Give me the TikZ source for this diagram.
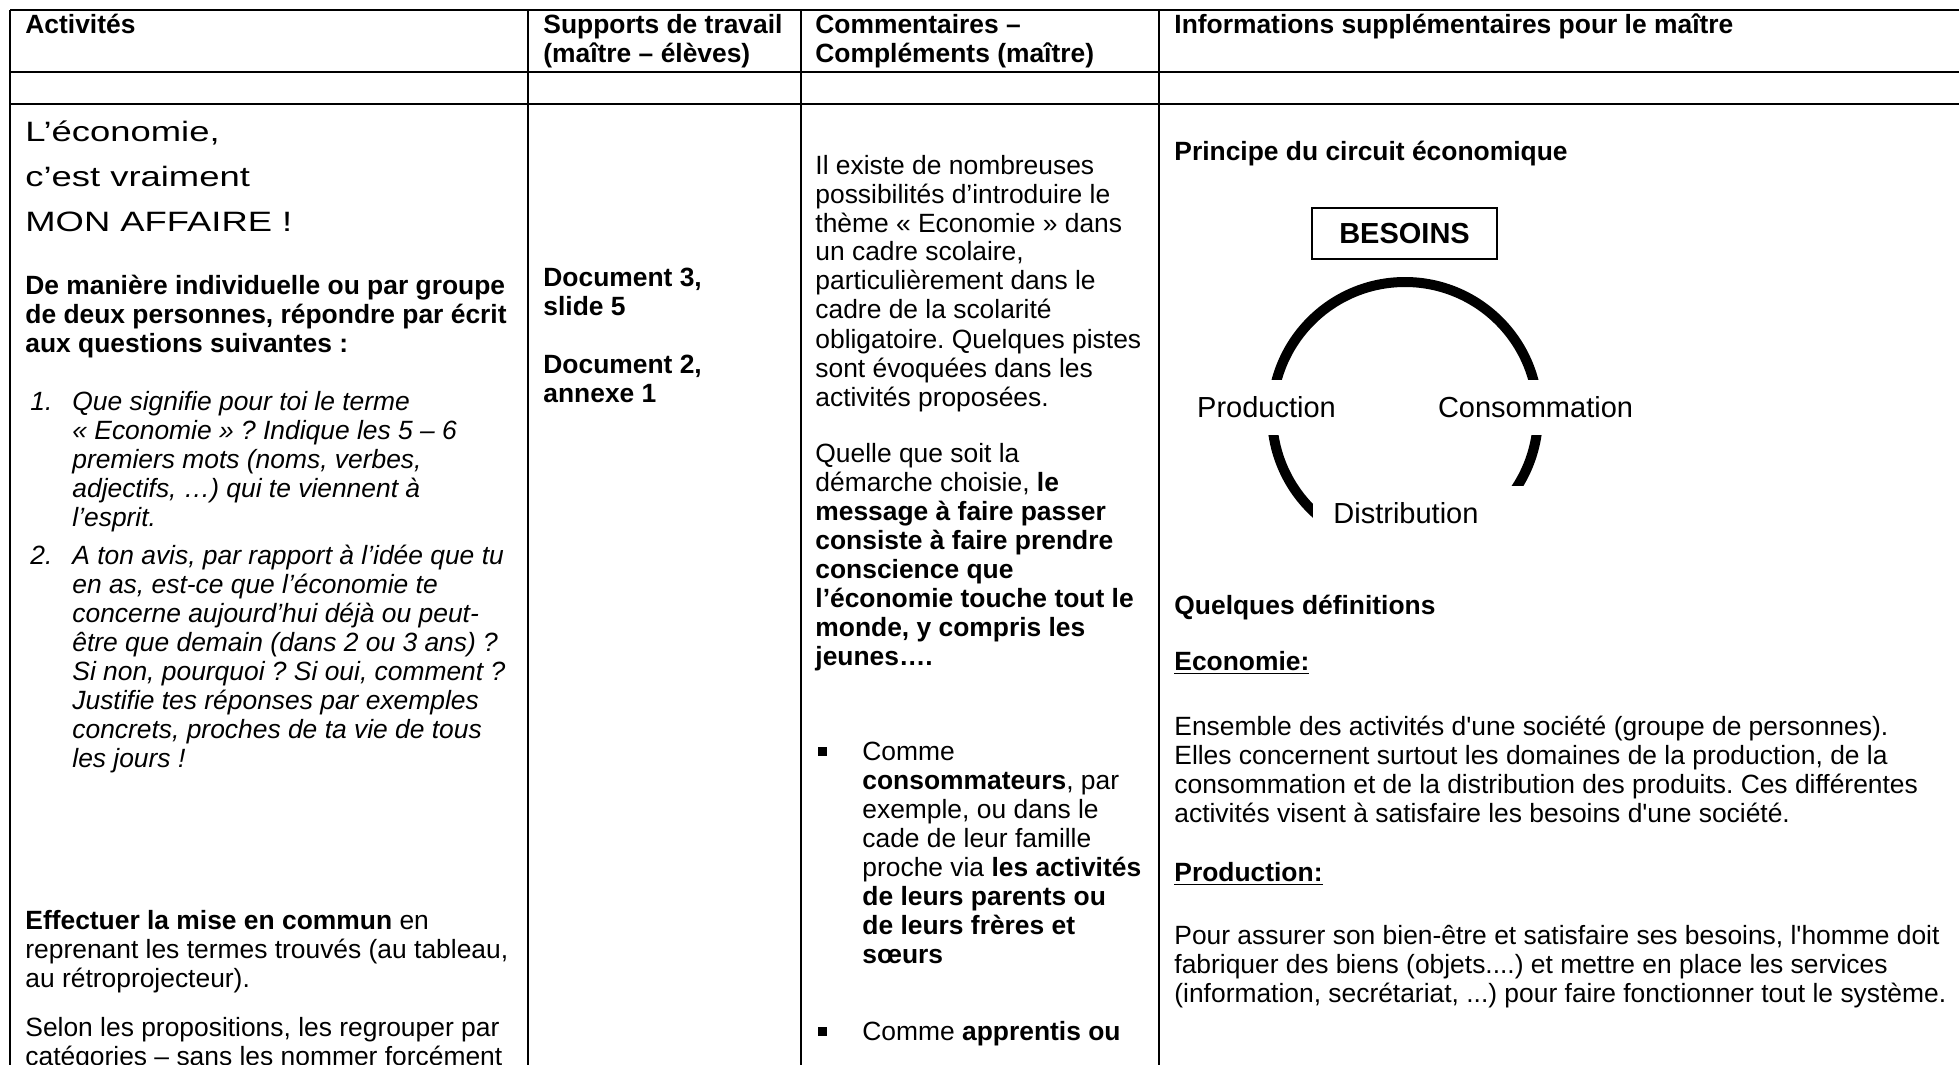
\documentclass[tikz,border=0pt]{standalone}
\usepackage{fontspec}
\setmainfont{Liberation Sans}
\newfontfamily\titlefont[FakeStretch=1.3]{Liberation Sans}
\frenchspacing

\newcommand{\bodyfont}{\fontsize{13.2pt}{14.5pt}\selectfont}
\newcommand{\cyclefont}{\fontsize{14.5pt}{16pt}\selectfont}
\newcommand{\lines}[1]{\begin{tabular}[t]{@{}l@{}}#1\end{tabular}}

\tikzset{
  grid/.style={line width=1.3pt},
  txt/.style={anchor=base west, inner sep=0pt, font=\bodyfont},
  bold/.style={txt, font=\bodyfont\bfseries},
  puce/.style={rectangle, fill=black, inner sep=0pt, minimum size=4.5pt},
  besoinsbox/.style={rectangle, draw, line width=0.7pt, inner sep=0pt, minimum width=92.5pt, minimum height=25.5pt, font=\cyclefont\bfseries},
  cyclabel/.style={fill=white, inner xsep=4pt, inner ysep=0pt, text height=18.5pt, text depth=9pt, anchor=base, font=\cyclefont}
}

\begin{document}
\begin{tikzpicture}[x=0.5pt, y=-0.5pt]

  \path[use as bounding box, fill=white] (0,0) rectangle (1959,1065);

  % Table rules
  \draw[grid] (10,10) -- (1959,10);
  \draw[grid] (10,72) -- (1959,72);
  \draw[grid] (10,104) -- (1959,104);
  \foreach \x in {10,528,801,1159}
    \draw[grid] (\x,10) -- (\x,1065);

  % Header row
  \node (hactiv) [bold] at (25,34) {Activités};
  \node (hsupports) [bold] at (543,34) {\lines{Supports de travail\\(maître – élèves)}};
  \node (hcomment) [bold] at (815,34) {\lines{Commentaires –\\Compléments (maître)}};
  \node (hinfo) [bold] at (1174,34) {Informations supplémentaires pour le maître};

  % Activities column
  \node (title) [txt, font=\titlefont\fontsize{14pt}{22.5pt}\selectfont] at (25,141)
    {\lines{L’économie,\\c’est vraiment\\MON AFFAIRE !}};
  \node (consigne) [bold] at (25,294)
    {\lines{De manière individuelle ou par groupe\\de deux personnes, répondre par écrit\\aux questions suivantes :}};
  \node (num1) [txt, font=\bodyfont\itshape] at (30,410) {1.};
  \node (q1) [txt, font=\bodyfont\itshape] at (72,410)
    {\lines{Que signifie pour toi le terme\\« Economie » ? Indique les 5 – 6\\premiers mots (noms, verbes,\\adjectifs, …) qui te viennent à\\l’esprit.}};
  \node (num2) [txt, font=\bodyfont\itshape] at (30,564) {2.};
  \node (q2) [txt, font=\bodyfont\itshape] at (72,564)
    {\lines{A ton avis, par rapport à l’idée que tu\\en as, est-ce que l’économie te\\concerne aujourd’hui déjà ou peut-\\être que demain (dans 2 ou 3 ans) ?\\Si non, pourquoi ? Si oui, comment ?\\Justifie tes réponses par exemples\\concrets, proches de ta vie de tous\\les jours !}};
  \node (miseencommun) [txt] at (25,929)
    {\lines{\textbf{Effectuer la mise en commun} en\\reprenant les termes trouvés (au tableau,\\au rétroprojecteur).}};
  \node (regrouper) [txt] at (25,1036)
    {\lines{Selon les propositions, les regrouper par\\catégories – sans les nommer forcément}};

  % Supports column
  \node (doc3) [bold] at (543,286) {\lines{Document 3,\\slide 5}};
  \node (doc2) [bold] at (543,373) {\lines{Document 2,\\annexe 1}};

  % Comments column
  \node (intro) [txt] at (815,174)
    {\lines{Il existe de nombreuses\\possibilités d’introduire le\\thème « Economie » dans\\un cadre scolaire,\\particulièrement dans le\\cadre de la scolarité\\obligatoire. Quelques pistes\\sont évoquées dans les\\activités proposées.}};
  \node (message) [txt] at (815,462)
    {\lines{Quelle que soit la\\démarche choisie, \textbf{le}\\\textbf{message à faire passer}\\\textbf{consiste à faire prendre}\\\textbf{conscience que}\\\textbf{l’économie touche tout le}\\\textbf{monde, y compris les}\\\textbf{jeunes….}}};
  \node (puce1) [puce] at (822,751) {};
  \node (consommateurs) [txt] at (862,760)
    {\lines{Comme\\\textbf{consommateurs}, par\\exemple, ou dans le\\cade de leur famille\\proche via \textbf{les activités}\\\textbf{de leurs parents ou}\\\textbf{de leurs frères et}\\\textbf{sœurs}}};
  \node (puce2) [puce] at (822,1031) {};
  \node (apprentis) [txt] at (862,1040) {Comme \textbf{apprentis ou}};

  % Information column: economic cycle
  \node (principe) [bold] at (1174,161) {Principe du circuit économique};
  \node (besoins) [besoinsbox] at (1404.5,233.5) {BESOINS};
  \coordinate (centre) at (1405,415);
  \draw[line width=5pt] (centre) circle [radius=66.5pt];
  \node (production) [cyclabel] at (1266.5,417) {Production};
  \node (consommation) [cyclabel] at (1535.5,417) {Consommation};
  \node (distribution) [cyclabel, anchor=base west, inner sep=0pt, text width=107.5pt, text depth=16pt, align=left] at (1313,523)
    {\hspace*{10pt}Distribution};

  % Definitions
  \node (definitions) [bold] at (1174,614) {Quelques définitions};
  \node (defeco) [bold] at (1174,670) {\underline{Economie:}};
  \node (ensemble) [txt] at (1174,735)
    {\lines{Ensemble des activités d\textquotesingle une société (groupe de personnes).\\Elles concernent surtout les domaines de la production, de la\\consommation et de la distribution des produits. Ces différentes\\activités visent à satisfaire les besoins d\textquotesingle une société.}};
  \node (defprod) [bold] at (1174,881) {\underline{Production:}};
  \node (assurer) [txt] at (1174,944)
    {\lines{Pour assurer son bien-être et satisfaire ses besoins, l\textquotesingle homme doit\\fabriquer des biens (objets....) et mettre en place les services\\(information, secrétariat, ...) pour faire fonctionner tout le système.}};

\end{tikzpicture}
\end{document}
